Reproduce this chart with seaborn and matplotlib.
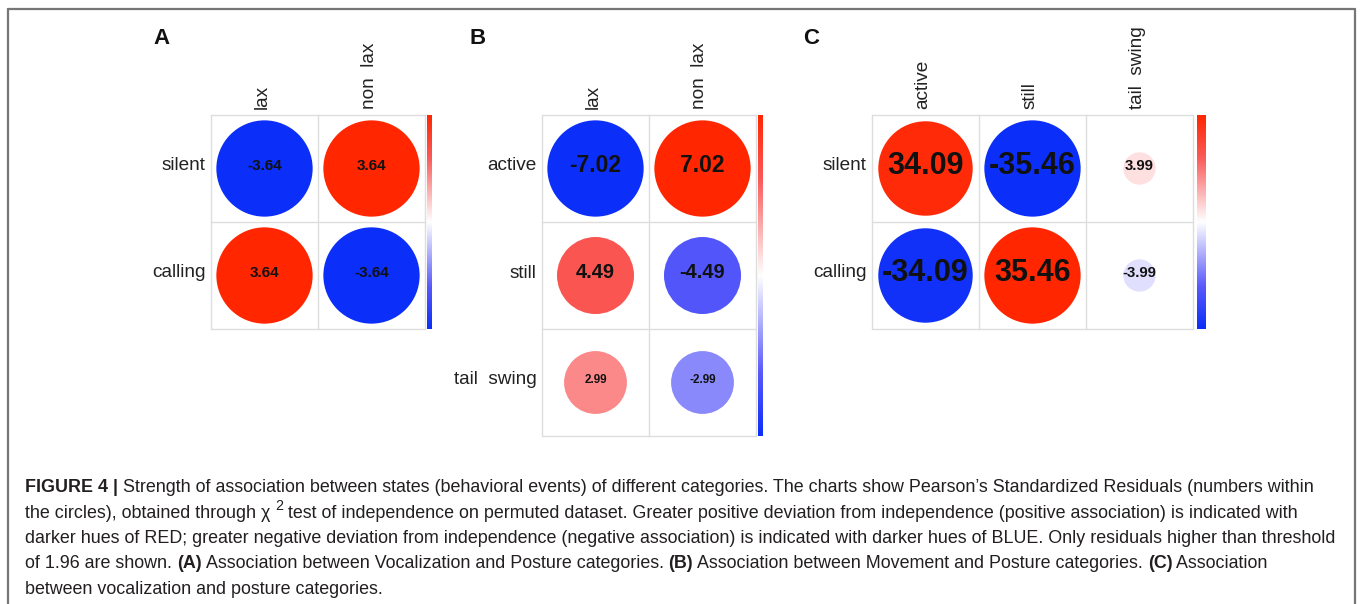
import numpy as np
import pandas as pd
import matplotlib
matplotlib.use("Agg")
import matplotlib.pyplot as plt
import seaborn as sns
from matplotlib.colors import LinearSegmentedColormap
from matplotlib.lines import Line2D
from matplotlib.font_manager import FontProperties

# Pearson standardized residuals (chi-square test on permuted data)
a_rows = ["silent", "calling"]
a_cols = ["lax", "non  lax"]
a_vals = [[-3.64, 3.64],
          [3.64, -3.64]]

b_rows = ["active", "still", "tail  swing"]
b_cols = ["lax", "non  lax"]
b_vals = [[-7.02, 7.02],
          [4.49, -4.49],
          [2.99, -2.99]]

c_rows = ["silent", "calling"]
c_cols = ["active", "still", "tail  swing"]
c_vals = [[34.09, -35.46, 3.99],
          [-34.09, 35.46, -3.99]]

# point sizes of the residual labels inside the circles
a_num_size = [[11, 11], [11, 11]]
b_num_size = [[16.5, 16.5], [14.4, 14.4], [8.4, 8.4]]
c_num_size = [[22, 22, 10.7], [22, 22, 10.7]]

W, H, DPI = 1360, 604, 100
CELL = 107

sns.set_style("white")
plt.rcParams["font.family"] = ["Liberation Sans", "DejaVu Sans"]

cmap = LinearSegmentedColormap.from_list(
    "resid", [(0.0, "#0b2ef8"), (0.2, "#5a5afa"), (0.5, "#ffffff"),
              (0.8, "#fa5a5a"), (1.0, "#ff2600")])

fig = plt.figure(figsize=(W / DPI, H / DPI), dpi=DPI)
fig.patch.set_facecolor("white")


def box(left, top, w, h):
    return [left / W, 1 - (top + h) / H, w / W, h / H]


def corr_panel(rows, cols, vals, num_sizes, left, top, bar_left, bar_w,
               letter, letter_x):
    nr, nc = len(rows), len(cols)
    ax = fig.add_axes(box(left, top, nc * CELL, nr * CELL))
    v = np.array(vals, dtype=float)
    vmax = np.abs(v).max()
    df = pd.DataFrame({"row": np.repeat(np.arange(nr), nc) + 0.5,
                       "col": np.tile(np.arange(nc), nr) + 0.5,
                       "value": v.ravel()})
    df["mag"] = df["value"].abs()

    # circle area proportional to |residual|; the largest fills 90% of a cell
    def area(m):
        d_px = 0.9 * CELL * np.sqrt(m / vmax)
        return (d_px * 72 / DPI) ** 2

    sizes = {m: area(m) for m in df["mag"].unique()}
    sns.scatterplot(data=df, x="col", y="row", hue="value", palette=cmap,
                    hue_norm=(-vmax, vmax), size="mag", sizes=sizes,
                    linewidth=0, edgecolor="none", legend=False, ax=ax,
                    zorder=3)

    for i in range(nc + 1):
        ax.axvline(i, color="#dddddd", lw=1, zorder=1, clip_on=False)
    for j in range(nr + 1):
        ax.axhline(j, color="#dddddd", lw=1, zorder=1, clip_on=False)

    lift = 2.5 / CELL  # labels sit a touch above the cell centre
    for r in range(nr):
        for c in range(nc):
            ax.text(c + 0.5, r + 0.5 - lift, f"{v[r, c]:.2f}", ha="center",
                    va="center", fontsize=num_sizes[r][c], fontweight="bold",
                    color="#111111", zorder=4)

    ax.set_xlim(0, nc)
    ax.set_ylim(nr, 0)
    ax.set_xticks(np.arange(nc) + 0.5 - 2.5 / CELL, cols)
    ax.set_yticks(np.arange(nr) + 0.5 - 4.5 / CELL, rows)
    ax.xaxis.tick_top()
    ax.tick_params(length=0, labelsize=13.7, pad=4, colors="#222222")
    for lab in ax.get_xticklabels():
        lab.set_rotation(90)
    ax.set_xlabel("")
    ax.set_ylabel("")
    for s in ax.spines.values():
        s.set_visible(False)

    cax = fig.add_axes(box(bar_left, top, bar_w, nr * CELL))
    cax.imshow(np.linspace(1, -1, 256)[:, None], cmap=cmap, vmin=-1, vmax=1,
               aspect="auto")
    cax.axis("off")

    fig.text(letter_x / W, 1 - 38 / H, letter, ha="center", va="center",
             fontsize=16, fontweight="bold", color="#111111")


corr_panel(a_rows, a_cols, a_vals, a_num_size, 211, 115, 427, 5, "A", 161)
corr_panel(b_rows, b_cols, b_vals, b_num_size, 542, 115, 758, 5, "B", 478)
corr_panel(c_rows, c_cols, c_vals, c_num_size, 872, 115, 1197, 9, "C", 811)

# outer frame (open at the bottom)
frame_kw = dict(color="#767676", lw=1.6, transform=fig.transFigure)
fig.add_artist(Line2D([8 / W, 1355 / W], [1 - 8.5 / H, 1 - 8.5 / H], **frame_kw))
fig.add_artist(Line2D([8 / W, 8 / W], [0, 1 - 8.5 / H], **frame_kw))
fig.add_artist(Line2D([1355 / W, 1355 / W], [0, 1 - 8.5 / H], **frame_kw))

# caption
cap_family = ["Liberation Sans Narrow", "Liberation Sans", "DejaVu Sans"]
cap_color = "#231f20"
renderer = fig.canvas.get_renderer()


def text_width(s, size, weight):
    fp = FontProperties(family=cap_family, size=size, weight=weight)
    w1 = renderer.get_text_width_height_descent("|" + s + "|", fp, ismath=False)[0]
    w0 = renderer.get_text_width_height_descent("||", fp, ismath=False)[0]
    return w1 - w0


N, B, S = "normal", "bold", "sup"
caption_lines = [
    [("FIGURE 4 | ", B),
     ("Strength of association between states (behavioral events) of different "
      "categories. The charts show Pearson\u2019s Standardized Residuals (numbers within", N)],
    [("the circles), obtained through \u03c7 ", N), ("2", S),
     (" test of independence on permuted dataset. Greater positive deviation from "
      "independence (positive association) is indicated with", N)],
    [("darker hues of RED; greater negative deviation from independence (negative "
      "association) is indicated with darker hues of BLUE. Only residuals higher than threshold", N)],
    [("of 1.96 are shown. ", N), ("(A)", B),
     (" Association between Vocalization and Posture categories. ", N), ("(B)", B),
     (" Association between Movement and Posture categories. ", N), ("(C)", B),
     (" Association", N)],
    [("between vocalization and posture categories.", N)],
]

ref = text_width(caption_lines[2][0][0], 10, "normal")
cap_size = 10 * (1338 - 25) / ref
baselines = [492, 517.5, 543, 568.5, 594]

for runs, yb in zip(caption_lines, baselines):
    x = 25.0
    for s, kind in runs:
        if kind == S:
            size = cap_size * 0.8
            y = yb - cap_size * DPI / 72 * 0.4
            weight = "normal"
        else:
            size = cap_size
            y = yb
            weight = kind
        fig.text(x / W, 1 - y / H, s, ha="left", va="baseline", fontsize=size,
                 fontweight=weight, family=cap_family, color=cap_color)
        x += text_width(s, size, weight)

fig.savefig("out.png", dpi=DPI, facecolor="white")
